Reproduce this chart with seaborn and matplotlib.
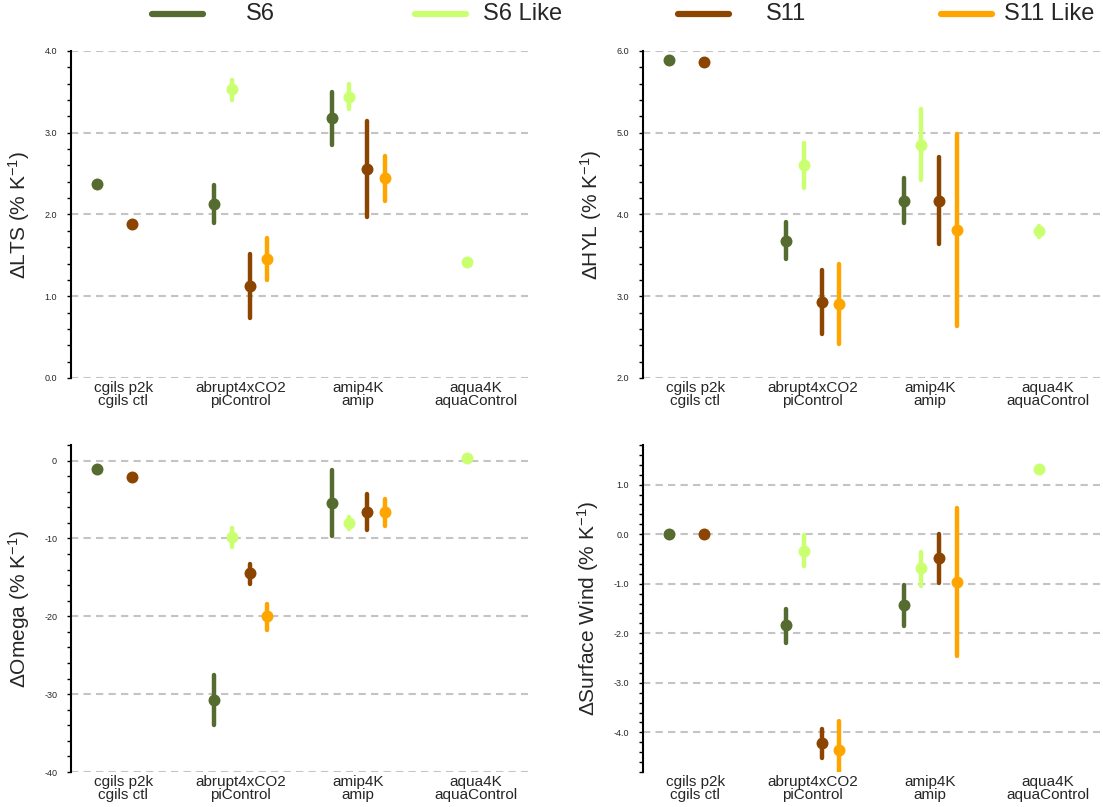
import matplotlib
matplotlib.use("Agg")
import matplotlib.pyplot as plt
from matplotlib.lines import Line2D
from matplotlib.ticker import MultipleLocator, FormatStrFormatter
import pandas as pd
import seaborn as sns

experiments = ["cgils p2k\ncgils ctl", "abrupt4xCO2\npiControl",
               "amip4K\namip", "aqua4K\naquaControl"]
series = ["S6", "S6 Like", "S11", "S11 Like"]
colors = ["#556B2F", "#CAFF70", "#8B4500", "#FFA500"]

# Sensitivities per experiment (None = experiment not run for that set);
# low/high give the spread across models (None = single value, no bar).
lts_mean = {"S6": [2.37, 2.13, 3.18, None], "S6 Like": [None, 3.53, 3.44, 1.42],
            "S11": [1.88, 1.13, 2.56, None], "S11 Like": [None, 1.46, 2.45, None]}
lts_low = {"S6": [None, 1.89, 2.85, None], "S6 Like": [None, 3.40, 3.29, None],
           "S11": [None, 0.74, 1.97, None], "S11 Like": [None, 1.20, 2.16, None]}
lts_high = {"S6": [None, 2.36, 3.50, None], "S6 Like": [None, 3.65, 3.60, None],
            "S11": [None, 1.52, 3.14, None], "S11 Like": [None, 1.71, 2.72, None]}

hyl_mean = {"S6": [5.89, 3.68, 4.17, None], "S6 Like": [None, 4.60, 4.85, 3.80],
            "S11": [5.87, 2.93, 4.17, None], "S11 Like": [None, 2.91, 3.81, None]}
hyl_low = {"S6": [None, 3.45, 3.89, None], "S6 Like": [None, 4.33, 4.42, 3.73],
           "S11": [None, 2.54, 3.64, None], "S11 Like": [None, 2.42, 2.63, None]}
hyl_high = {"S6": [None, 3.91, 4.45, None], "S6 Like": [None, 4.88, 5.29, 3.86],
            "S11": [None, 3.32, 4.70, None], "S11 Like": [None, 3.40, 4.99, None]}

omega_mean = {"S6": [-1.1, -30.7, -5.4, None], "S6 Like": [None, -9.8, -8.0, 0.3],
              "S11": [-2.1, -14.5, -6.6, None], "S11 Like": [None, -20.0, -6.6, None]}
omega_low = {"S6": [None, -34.0, -9.7, None], "S6 Like": [None, -11.1, -8.8, None],
             "S11": [None, -15.8, -8.9, None], "S11 Like": [None, -21.7, -8.4, None]}
omega_high = {"S6": [None, -27.5, -1.2, None], "S6 Like": [None, -8.6, -7.3, None],
              "S11": [None, -13.3, -4.3, None], "S11 Like": [None, -18.4, -4.9, None]}

wind_mean = {"S6": [0.0, -1.84, -1.43, None], "S6 Like": [None, -0.33, -0.69, 1.32],
             "S11": [0.0, -4.22, -0.48, None], "S11 Like": [None, -4.36, -0.96, None]}
wind_low = {"S6": [None, -2.19, -1.86, None], "S6 Like": [None, -0.64, -1.04, None],
            "S11": [None, -4.52, -0.99, None], "S11 Like": [None, -4.95, -2.45, None]}
wind_high = {"S6": [None, -1.50, -1.02, None], "S6 Like": [None, -0.02, -0.36, None],
             "S11": [None, -3.94, 0.01, None], "S11 Like": [None, -3.77, 0.52, None]}


def long_form(mean, low, high):
    """Three rows per point (low, centre, high): the median marks the
    centre and the full percentile interval spans the bar."""
    rows = []
    for s in series:
        for e, m, lo, hi in zip(experiments, mean[s], low[s], high[s]):
            if m is None:
                continue
            lo = m if lo is None else lo
            hi = m if hi is None else hi
            for v in (lo, m, hi):
                rows.append({"experiment": e, "series": s, "value": v})
    return pd.DataFrame(rows)


sns.set_style("ticks")
plt.rcParams["font.family"] = ["Liberation Sans", "DejaVu Sans"]
plt.rcParams["mathtext.fontset"] = "custom"
plt.rcParams["mathtext.rm"] = "Liberation Sans"
plt.rcParams["mathtext.it"] = "Liberation Sans:italic"
plt.rcParams["axes.unicode_minus"] = False

fig = plt.figure(figsize=(11.03, 8.07), dpi=100)

W, H = 1103, 807
panels = [
    # (mean, low, high, ylabel, ylim, major, minor, fmt, left px, top px)
    (lts_mean, lts_low, lts_high, r"$\Delta$LTS (% K$^{-1}$)", (0, 4), 1.0, 0.2, "%.1f", 71, 51),
    (hyl_mean, hyl_low, hyl_high, r"$\Delta$HYL (% K$^{-1}$)", (2, 6), 1.0, 0.2, "%.1f", 643, 51),
    (omega_mean, omega_low, omega_high, r"$\Delta$Omega (% K$^{-1}$)", (-40, 2), 10, 2, "%d", 71, 445),
    (wind_mean, wind_low, wind_high, r"$\Delta$Surface Wind (% K$^{-1}$)", (-4.8, 1.8), 1.0, 0.2, "%.1f", 643, 445),
]

for mean, low, high, ylabel, ylim, major, minor, fmt, left, top in panels:
    ax = fig.add_axes([left / W, 1 - (top + 327) / H, 457 / W, 327 / H])
    df = long_form(mean, low, high)
    sns.pointplot(
        data=df, x="experiment", y="value", hue="series",
        order=experiments, hue_order=series, palette=colors,
        estimator="median", errorbar=("pi", 100), dodge=0.45,
        linestyle="none", markers="o", markersize=8.6, markeredgewidth=0,
        err_kws={"linewidth": 3.2, "solid_capstyle": "round"},
        legend=False, ax=ax,
    )
    ax.set_xlim(-0.445, 3.445)
    ax.set_ylim(*ylim)
    ax.yaxis.set_major_locator(MultipleLocator(major))
    ax.yaxis.set_minor_locator(MultipleLocator(minor))
    ax.yaxis.set_major_formatter(FormatStrFormatter(fmt))
    ax.set_axisbelow(True)
    ax.yaxis.grid(True, which="major", color="#C4C4C4", linewidth=1.5,
                  linestyle=(0, (3.5, 2.5)))
    ax.xaxis.grid(False)
    for side in ("top", "right", "bottom"):
        ax.spines[side].set_visible(False)
    ax.spines["left"].set_linewidth(1.5)
    ax.spines["left"].set_color("black")
    ax.tick_params(axis="y", which="both", direction="out", length=3,
                   width=1, color="black", labelsize=6.5, pad=7)
    ax.tick_params(axis="x", length=0, labelsize=11, pad=2)
    for lab in ax.get_xticklabels():
        lab.set_linespacing(0.95)
    ax.set_xlabel("")
    ax.set_ylabel(ylabel, fontsize=15, labelpad=9)

# Key across the top: evenly spaced swatches, each label centred beside its swatch
key_y = 1 - 14 / H
for i, (name, c) in enumerate(zip(series, colors)):
    x0 = (152 + 263 * i) / W
    fig.add_artist(Line2D([x0, x0 + 51 / W], [key_y, key_y], color=c,
                          linewidth=4.5, solid_capstyle="round",
                          transform=fig.transFigure))
    fig.text(x0 + (51 + 57) / W, key_y, name, fontsize=17,
             ha="center", va="center")

fig.savefig("out.png", dpi=100)
